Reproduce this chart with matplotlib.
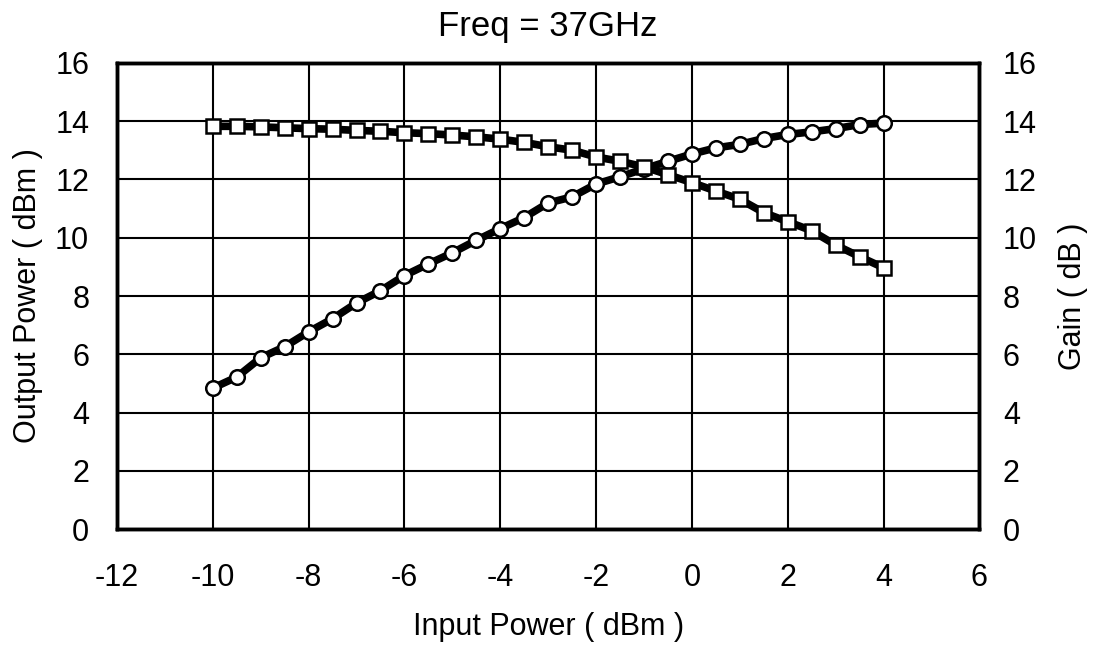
import numpy as np
import matplotlib
matplotlib.use("Agg")
import matplotlib.pyplot as plt

# input power sweep (dBm)
pin = np.arange(-10, 4.01, 0.5)

# output power (dBm), circles, left axis
pout = [4.84, 5.22, 5.88, 6.26, 6.77, 7.22, 7.76, 8.18, 8.70, 9.10,
        9.48, 9.91, 10.31, 10.69, 11.19, 11.40, 11.84, 12.09, 12.36, 12.62,
        12.87, 13.08, 13.20, 13.40, 13.54, 13.63, 13.74, 13.88, 13.93]

# gain (dB), squares, right axis
gain = [13.82, 13.82, 13.80, 13.77, 13.74, 13.72, 13.68, 13.65, 13.60, 13.57,
        13.52, 13.46, 13.38, 13.27, 13.12, 13.00, 12.77, 12.62, 12.43, 12.16,
        11.89, 11.60, 11.32, 10.86, 10.55, 10.24, 9.75, 9.35, 8.97]

xticks = np.arange(-12, 7, 2)
yticks = np.arange(0, 17, 2)

plt.rcParams['font.family'] = ['Liberation Sans', 'DejaVu Sans']
plt.rcParams['axes.unicode_minus'] = False
fig = plt.figure(figsize=(10.93, 6.47), dpi=100)
ax = fig.add_axes([0.107, 0.182, 0.789, 0.721])
ax2 = ax.twinx()

ax.plot(pin, pout, color='black', lw=5.5, marker='o', ms=10.5,
        mfc='white', mec='black', mew=1.8, zorder=3)
ax2.plot(pin, gain, color='black', lw=5.5, marker='s', ms=10.5,
         mfc='white', mec='black', mew=1.8, zorder=3)

for a in (ax, ax2):
    a.set_xlim(-12, 6)
    a.set_ylim(0, 16)
    a.set_yticks(yticks)
    a.tick_params(length=0, labelsize=22)
    for s in a.spines.values():
        s.set_linewidth(2.5)
ax.tick_params(axis='x', pad=24)
ax.tick_params(axis='y', pad=20)
ax2.tick_params(axis='y', pad=17)
ax.set_xticks(xticks)
ax.grid(True, color='black', lw=1.5)
ax.set_axisbelow(True)

ax.set_xlabel('Input Power ( dBm )', fontsize=22, labelpad=14)
ax.set_ylabel('Output Power ( dBm )', fontsize=22, labelpad=9)
ax2.set_ylabel('Gain ( dB )', fontsize=22, labelpad=15)
ax.set_title('Freq = 37GHz', fontsize=25, pad=19)

plt.savefig('out.png', dpi=100)
